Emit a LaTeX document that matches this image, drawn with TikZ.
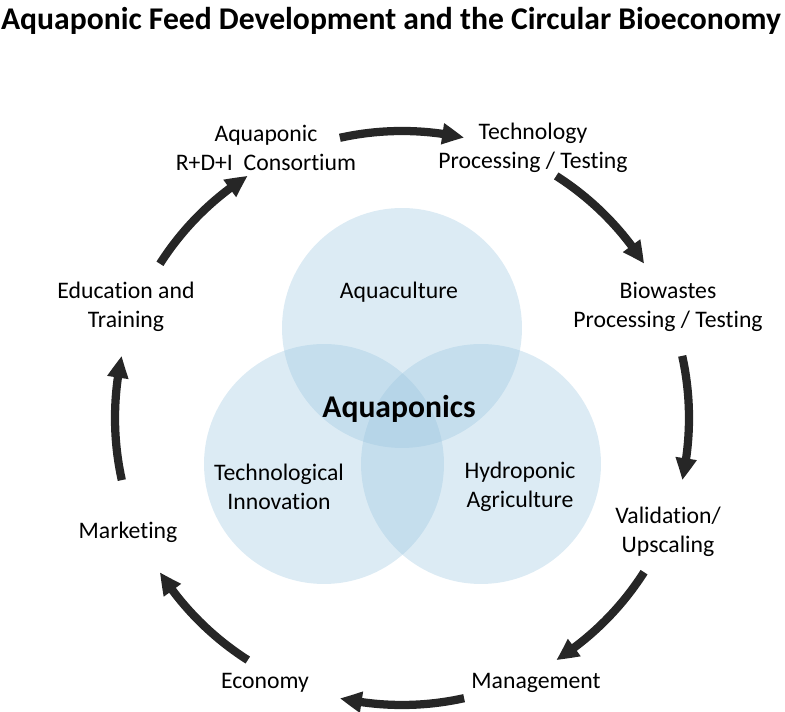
\documentclass[tikz,border=0pt]{standalone}
\usepackage{fontspec}
\setmainfont{Carlito}[Ligatures=NoCommon]
\usetikzlibrary{arrows.meta,bending,positioning,calc}
\definecolor{vennblue}{RGB}{150,195,222}
\definecolor{flowgray}{RGB}{38,38,38}

\begin{document}
\begin{tikzpicture}[x=0.02cm,y=0.02cm,
    lbl/.style={align=center,font=\fontsize{13.5}{16.8}\selectfont},
    ring/.style={circle,fill=vennblue,fill opacity=0.33,minimum size=4.8cm,inner sep=0pt},
    flow/.style={draw=flowgray,line width=4.7pt,-{Triangle[length=0.44cm,width=0.4cm,bend]}}]
  \useasboundingbox (0,0) rectangle (785,712);
  \node[font=\bfseries\fontsize{18}{21}\selectfont] (title) at (391,691) {Aquaponic Feed Development and the Circular Bioeconomy};
  \coordinate (hub) at (402,294);
  % the three circles
  \node[ring] (aqua) at (402,384) {};
  \node[ring] (tech) at (324,248) {};
  \node[ring] (hydro) at (481,248) {};
  \node[lbl] (aqualbl) at (399,420) {Aquaculture};
  \node[lbl] (techlbl) at (279,225) {Technological\\Innovation};
  \node[lbl] (hydrolbl) at (520,225) {Hydroponic\\Agriculture};
  \node[font=\bfseries\fontsize{18}{21}\selectfont] (core) at (399,303) {Aquaponics};
  % cycle around
  \node[lbl] (rdi) at (266,564) {Aquaponic\\R+D+I\ \ Consortium};
  \node[lbl] (proc) at (533,564) {Technology\\Processing / Testing};
  \node[lbl] (bio) at (668,405) {Biowastes\\Processing / Testing};
  \node[lbl] (valid) at (668,180) {Validation/\\Upscaling};
  \node[lbl] (mgmt) at (536,29) {Management};
  \node[lbl] (econ) at (265,29) {Economy};
  \node[lbl] (market) at (128,180) {Marketing};
  \node[lbl] (educ) at (126,405) {Education and\\Training};
  \foreach \a in {90,45,...,-225} {
    \draw[flow] ($(hub)+(\a+12.5:287)$) arc[start angle=\a+12.5,end angle=\a-12.5,radius=287];
  }
\end{tikzpicture}
\end{document}
